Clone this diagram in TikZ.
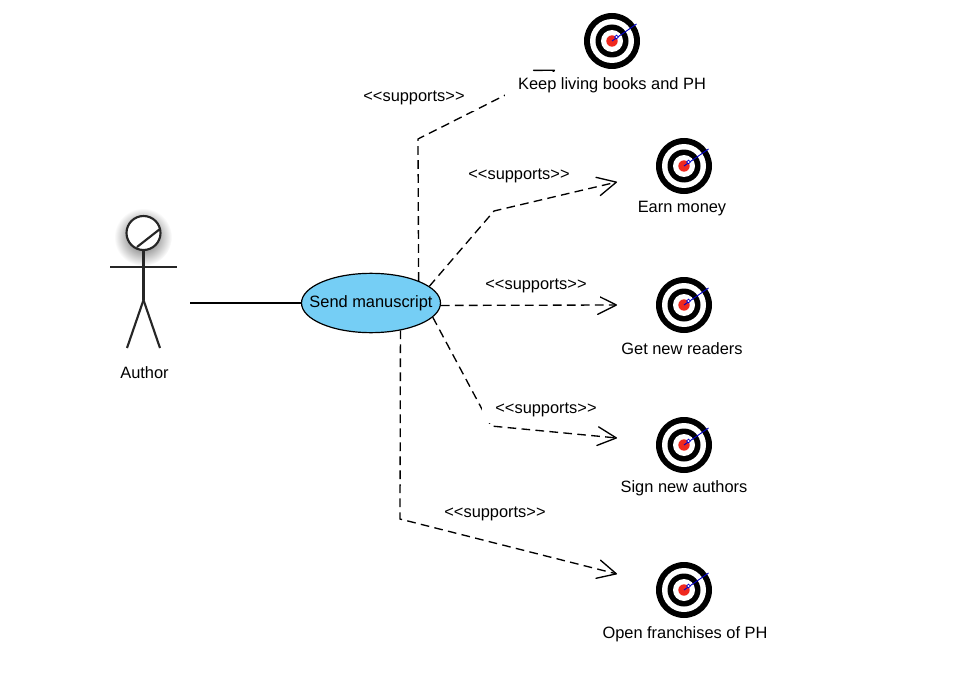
\documentclass[tikz,border=0pt]{standalone}
\usepackage{fontspec}
\setmainfont{Liberation Sans}
\usetikzlibrary{arrows.meta,shapes.geometric}
\definecolor{usecasefill}{RGB}{117,206,245}
\definecolor{bullseye}{RGB}{240,40,30}
\tikzset{
  usecase/.style={ellipse, draw=black, line width=0.9pt, fill=usecasefill, minimum height=44.5pt, inner xsep=-9.3pt, inner ysep=0pt, font=\fontsize{12.3}{14}\selectfont},
  stereotype/.style={fill=white, inner xsep=9.75pt, inner ysep=0pt, minimum height=19.5pt, font=\fontsize{12.3}{14}\selectfont},
  caption/.style={fill=white, inner xsep=9.75pt, inner ysep=0pt, minimum height=19.5pt, font=\fontsize{12.3}{14}\selectfont},
  supportline/.style={line width=1pt, dash pattern=on 6.5pt off 4pt, -{Straight Barb[length=14pt,width=14pt,line width=1pt,round]}},
  stickline/.style={line width=1.6pt, black!85},
  targetdisc/.style={circle, fill=black, minimum size=42pt, inner sep=0pt}
}
\begin{document}
\begin{tikzpicture}[x=0.75pt,y=-0.75pt]
  \useasboundingbox (0,0) rectangle (961,685);
  % Ator
  \shade[inner color=black!70, outer color=white, draw=none] (143,237) circle (29);
  \draw[stickline, fill=white] (143.5,233) circle (17);
  \draw[stickline] (137,247) -- (160,229);
  \draw[stickline] (143.5,250) -- (143.5,300);
  \draw[stickline] (110,267) -- (177,267);
  \draw[stickline] (143.5,300) -- (127,348);
  \draw[stickline] (143.5,300) -- (160,348);
  \node[font=\fontsize{12.3}{14}\selectfont] (author) at (144.5,373) {Author};
  \coordinate (actorend) at (190,303);
  % Caso de uso
  \node[usecase] (send) at (371,303) {Send manuscript};
  \draw[line width=1pt] (actorend) -- (send.west);
  % Pontos de passagem
  \coordinate (bendlivros) at (418,139);
  \coordinate (tiplivros) at (555,70);
  \coordinate (bendmoney) at (494,211);
  \coordinate (tipmoney) at (617,182);
  \coordinate (tipreaders) at (617,305);
  \coordinate (bendauthors) at (491,426);
  \coordinate (tipauthors) at (617,438);
  \coordinate (bendfranch) at (400,519);
  \coordinate (tipfranch) at (617,574);
  % Conectores
  \draw[supportline] (send.25) -- (bendlivros) -- (tiplivros);
  \draw[supportline] (send.16) -- (bendmoney) -- (tipmoney);
  \draw[supportline] (send.-2) -- (tipreaders);
  \draw[supportline] (send.-13) -- (bendauthors) -- (tipauthors);
  \draw[supportline] (send.-43) -- (bendfranch) -- (tipfranch);
  % Estereotipos
  \foreach \sname/\sx/\sy in {slivros/414/98, smoney/519/176, sreaders/536/286, sauthors/546/410, sfranch/495/514}
    \node[stereotype] (\sname) at (\sx,\sy) {<{}<supports>{}>};
  % Alvos
  \foreach \tname/\tx/\ty/\lx/\ly/\ltext in {
      livros/612/41/612/85/Keep living books and PH,
      money/684/166/682/209/Earn money,
      readers/684/305/682/349/Get new readers,
      authors/684/445/684/488/Sign new authors,
      franch/684/590/685/634/Open franchises of PH} {
    \node[targetdisc] (\tname) at (\tx,\ty) {};
    \fill[white] (\tname.center) circle (22);
    \fill[black] (\tname.center) circle (16.5);
    \fill[white] (\tname.center) circle (11);
    \fill[bullseye] (\tname.center) circle (5.7);
    \draw[blue!80!black, line width=0.7pt] (\tname.center) -- ++(24.5,-17);
    \draw[blue!80!black, line width=0.5pt, fill=white] (\tx+4.5,\ty-4) circle (1.8);
    \node[caption] (label\tname) at (\lx,\ly) {\ltext};
  }
\end{tikzpicture}
\end{document}
